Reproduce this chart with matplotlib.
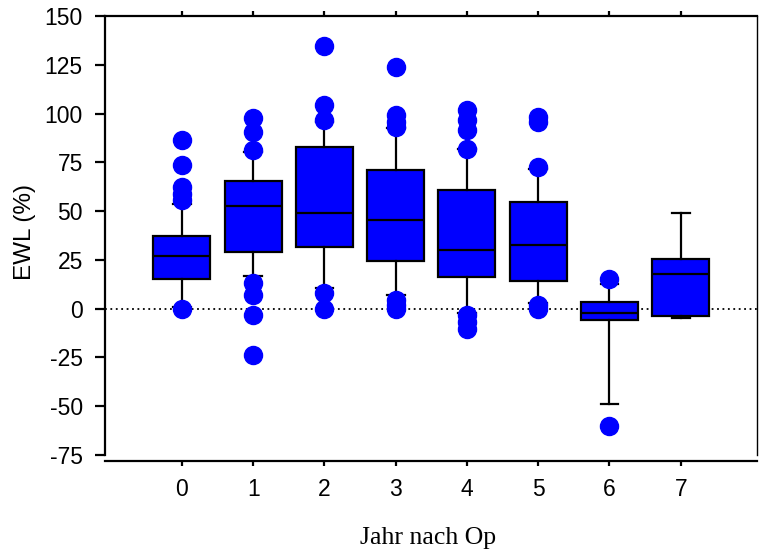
import numpy as np
import matplotlib
matplotlib.use("Agg")
import matplotlib.pyplot as plt

plt.rcParams["font.family"] = ["Liberation Sans", "DejaVu Sans"]
plt.rcParams["font.size"] = 16
plt.rcParams["axes.unicode_minus"] = False

# Year after surgery and box statistics (EWL %)
years = [0, 1, 2, 3, 4, 5, 6, 7]
q1 = [15.4, 29.1, 31.6, 24.4, 16.2, 14.0, -6.0, -3.8]
median = [26.8, 52.5, 49.1, 45.3, 30.3, 32.7, -2.3, 17.6]
q3 = [37.3, 65.3, 83.0, 71.0, 60.7, 54.7, 3.4, 25.3]
whis_lo = [1.0, 16.6, 10.8, 7.2, -2.4, 3.0, -49.1, -4.6]
whis_hi = [53.9, 80.5, 95.8, 92.4, 81.6, 71.4, 12.8, 48.8]
outliers = [
    [86.4, 73.5, 62.4, 59.0, 55.6, 0.0],
    [97.6, 90.7, 81.5, 13.1, 6.8, -3.4, -23.5],
    [134.8, 104.4, 96.7, 8.0, 0.0],
    [124.0, 99.2, 95.8, 93.2, 4.3, 2.0, 0.0],
    [101.9, 96.8, 91.6, 81.7, -3.5, -7.0, -10.5],
    [98.0, 95.5, 72.8, 2.0, 0.0],
    [15.0, -59.9],
    [],
]
y_ticks = [-75, -50, -25, 0, 25, 50, 75, 100, 125, 150]

stats = []
for i in range(len(years)):
    stats.append({
        "med": median[i], "q1": q1[i], "q3": q3[i],
        "whislo": whis_lo[i], "whishi": whis_hi[i],
        "fliers": np.array(outliers[i]),
    })

fig = plt.figure(figsize=(7.59, 5.53), dpi=100)
ax = fig.add_axes([105 / 759, 1 - 455 / 553, (757 - 105) / 759, (455 - 16) / 553])

# zero reference line
ax.axhline(0, color="black", linestyle=(0, (1, 2)), linewidth=1.3, zorder=1)

ax.bxp(
    stats, positions=years, widths=0.8, patch_artist=True,
    boxprops=dict(facecolor="#0000ff", edgecolor="black", linewidth=1.6),
    medianprops=dict(color="black", linewidth=1.6),
    whiskerprops=dict(color="black", linewidth=1.6),
    capprops=dict(color="black", linewidth=1.6),
    capwidths=0.25,
    flierprops=dict(marker="o", markerfacecolor="#0000ff", markeredgecolor="#0000ff",
                    markersize=13, linestyle="none"),
)

ax.set_xlim(-1.08, 8.07)
ax.set_ylim(-75, 150)
ax.set_yticks(y_ticks)
ax.set_xticks(years)
ax.set_xticklabels([str(y) for y in years])

ax.tick_params(axis="y", direction="out", length=7, width=1.6, pad=9, labelsize=16.5)
ax.tick_params(axis="x", direction="out", length=3.6, width=1.6, pad=9, labelsize=16.5)
ax.tick_params(axis="x", top=True, labeltop=False)

for side in ["left", "bottom", "top", "right"]:
    ax.spines[side].set_linewidth(1.6)
ax.spines["right"].set_linewidth(1.0)
ax.spines["bottom"].set_position(("outward", 4))

ax.set_ylabel("EWL (%)", fontsize=17.5)
ax.yaxis.set_label_coords(-0.106, 0.508)
ax.set_xlabel("Jahr nach Op", family="Liberation Serif", fontsize=18.5)
ax.xaxis.set_label_coords(0.496, -0.163)

fig.savefig("out.png", dpi=100)
